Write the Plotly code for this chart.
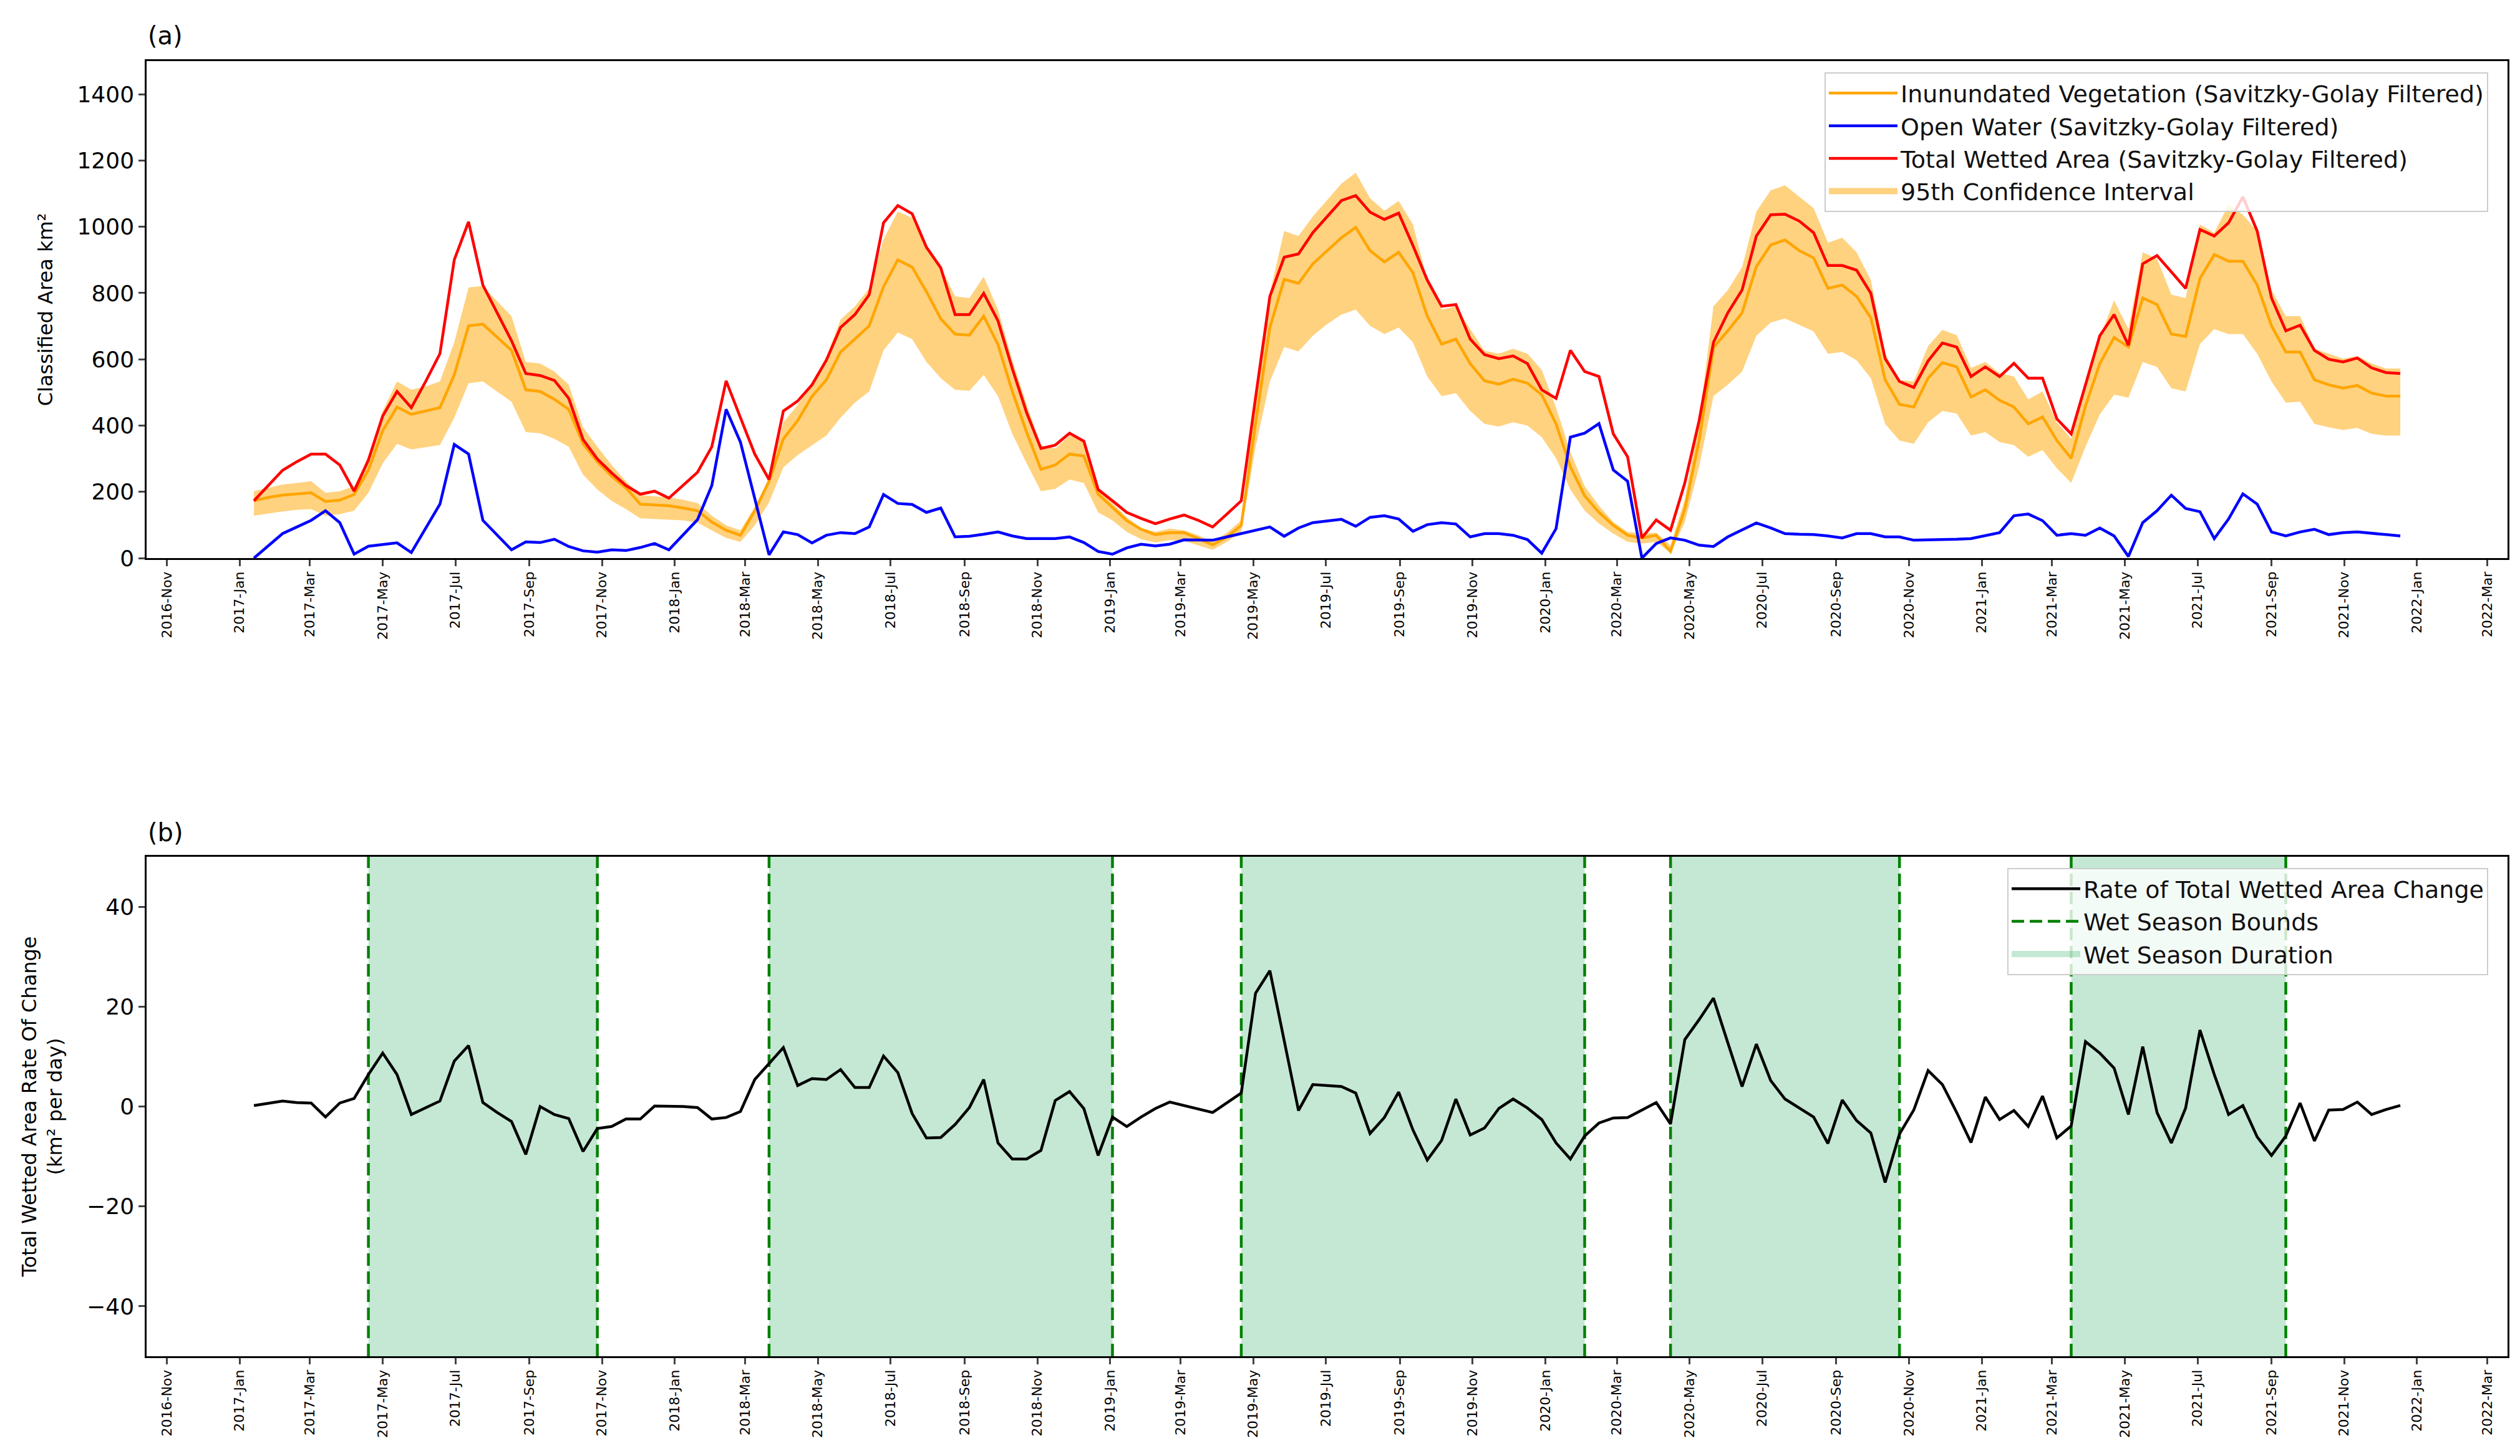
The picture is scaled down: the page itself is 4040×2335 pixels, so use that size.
import pandas as pd
import plotly.graph_objects as go

# Sentinel-1 12-day acquisition grid (first image 2017-01-13, 151 scenes)
dates = pd.date_range("2017-01-13", periods=151, freq="12D")

# Classified areas in km2 (Savitzky-Golay filtered)
veg = [173, 183, 190, 194, 197, 171, 175, 192, 266, 385, 456, 434, 444, 454, 553, 701, 706, 666, 627, 508,
       503, 479, 449, 345, 291, 247, 212, 163, 160, 158, 151, 143, 109, 84, 69, 143, 232, 360, 415, 488,
       538, 622, 661, 701, 819, 900, 878, 804, 722, 676, 673, 730, 644, 503, 380, 268, 281, 314, 308, 193,
       153, 113, 87, 71, 77, 77, 59, 40, 64, 99, 407, 696, 841, 829, 888, 928, 967, 998, 928,
       894, 923, 861, 730, 646, 661, 587, 535, 525, 540, 528, 493, 405, 276, 188, 138, 99, 69, 61, 69,
       20, 148, 355, 636, 686, 740, 880, 945, 960, 928, 906, 814, 824, 790, 725, 538, 464, 456, 543,
       590, 577, 486, 508, 476, 456, 405, 426, 355, 301, 459, 587, 666, 637, 785, 765, 676, 669, 844, 916,
       896, 896, 824, 701, 622, 622, 538, 523, 513, 521, 498, 489, 489]

water = [0, 38, 74, 94, 114, 143, 107, 12, 36, 41, 46, 17, 92, 163, 343, 314, 114, 69, 25, 49,
         47, 57, 35, 22, 18, 25, 23, 32, 44, 25, 72, 116, 219, 449, 350, 182, 10, 79, 71, 46,
         69, 77, 74, 94, 192, 165, 162, 138, 151, 64, 66, 72, 79, 67, 59, 59, 59, 64, 47, 20,
         12, 31, 42, 37, 42, 55, 55, 54, 64, 74, 84, 94, 66, 91, 107, 112, 117, 96, 123,
         128, 118, 81, 101, 107, 103, 64, 74, 74, 69, 56, 15, 89, 365, 377, 406, 266, 232, 0, 44,
         61, 54, 39, 35, 64, 84, 106, 91, 74, 72, 71, 67, 61, 74, 74, 64, 64, 54, 55,
         54, 57, 59, 69, 77, 128, 133, 113, 69, 74, 69, 91, 67, 5, 107, 143, 190, 150, 140, 59,
         118, 194, 163, 79, 67, 79, 87, 71, 77, 79, 74, 71, 67]

total = [173, 219, 265, 291, 314, 314, 281, 202, 296, 429, 503, 454, 533, 617, 900, 1015, 824, 740, 656, 557,
         551, 536, 482, 358, 299, 257, 219, 193, 202, 181, 219, 259, 336, 535, 424, 314, 237, 444, 474, 523,
         597, 696, 735, 795, 1012, 1064, 1039, 938, 876, 735, 735, 799, 716, 572, 439, 331, 341, 377, 353, 207,
         173, 138, 120, 104, 118, 130, 114, 94, 133, 173, 484, 790, 908, 918, 982, 1031, 1079, 1094, 1044,
         1022, 1041, 943, 839, 760, 765, 661, 614, 602, 610, 587, 508, 482, 627, 563, 548, 375, 306, 61, 115,
         84, 227, 415, 651, 740, 809, 972, 1036, 1038, 1017, 982, 883, 883, 869, 799, 602, 533, 515, 595,
         649, 637, 548, 577, 548, 588, 543, 543, 420, 375, 523, 671, 735, 642, 888, 913, 864, 814, 992, 972,
         1012, 1090, 987, 785, 686, 703, 627, 600, 592, 604, 574, 560, 557]

# 95% confidence interval of the inundated vegetation estimate
ci_upper = [202, 212, 222, 227, 232, 197, 202, 217, 301, 444, 533, 508, 518, 533, 651, 817, 821, 775, 730, 592,
            587, 563, 523, 395, 336, 281, 232, 190, 186, 183, 176, 166, 128, 99, 84, 153, 242, 410, 462, 530,
            607, 720, 760, 814, 962, 1046, 1027, 933, 878, 790, 785, 849, 750, 597, 464, 340, 331, 370, 357, 207,
            166, 123, 91, 79, 89, 84, 69, 49, 77, 114, 474, 800, 987, 972, 1031, 1081, 1130, 1163, 1086,
            1048, 1078, 1007, 839, 750, 760, 691, 626, 617, 632, 617, 568, 454, 321, 217, 158, 109, 79, 74, 77,
            39, 178, 415, 760, 809, 878, 1046, 1110, 1125, 1091, 1056, 952, 967, 923, 839, 617, 538, 533, 640,
            689, 673, 574, 592, 558, 548, 479, 503, 410, 360, 523, 666, 778, 691, 923, 903, 795, 785, 1007, 982,
            1066, 1036, 987, 809, 730, 730, 632, 617, 602, 610, 587, 572, 572]

ci_lower = [128, 135, 141, 146, 148, 128, 133, 143, 197, 286, 345, 328, 334, 341, 424, 528, 533, 503, 472, 380,
            377, 360, 336, 252, 207, 173, 148, 120, 118, 116, 114, 107, 84, 61, 49, 99, 168, 274, 311, 340,
            370, 424, 469, 503, 627, 681, 661, 592, 543, 508, 505, 553, 489, 375, 286, 202, 209, 237, 227, 138,
            114, 79, 57, 47, 54, 52, 38, 25, 49, 79, 336, 533, 637, 624, 671, 706, 735, 750, 701,
            676, 696, 651, 548, 489, 498, 444, 405, 397, 410, 400, 365, 301, 207, 143, 104, 74, 49, 44, 49,
            15, 109, 276, 489, 523, 563, 671, 711, 723, 704, 684, 617, 622, 597, 543, 405, 355, 345, 410,
            444, 436, 370, 380, 350, 341, 306, 326, 271, 227, 336, 434, 493, 484, 592, 577, 513, 503, 646, 691,
            676, 676, 617, 533, 469, 472, 405, 395, 387, 393, 375, 370, 370]

# rate of total wetted area change, km2 per day (None = no acquisition)
rate = [0.2, 0.7, 1.1, 0.8, 0.7, -2.1, 0.7, 1.6, 6.4, 10.7, 6.4, -1.6, -0.3, 1.1, 9.1, 12.2, 0.8, -1.2, -3.0, -9.6,
        0.0, -1.6, -2.4, -9.0, -4.4, -4.0, -2.5, -2.5, 0.1, 0.1, 0.0, -0.2, -2.5, -2.2, -1.0, 5.4, 8.5, 11.8, 4.2, 5.6,
        5.4, 7.4, 3.8, 3.8, 10.1, 6.8, -1.4, -6.3, -6.2, -3.6, -0.2, 5.4, -7.3, -10.5, -10.5, -8.8, 1.2, 3.0, -0.4, -9.8,
        -2.1, -4.0, -2.1, -0.4, 0.9, None, None, -1.2, None, 2.7, 22.7, 27.2, None, -0.8, 4.4, None, 4.0, 2.7, -5.4,
        -2.2, 2.9, -4.7, -10.7, -6.8, 1.5, -5.7, -4.3, -0.4, 1.5, -0.3, -2.6, -7.3, -10.5, -5.9, -3.3, -2.3, -2.2, -0.7, 0.8,
        -3.5, 13.4, 17.4, 21.7, 12.8, 4.0, 12.5, 5.2, 1.5, -0.3, -2.1, -7.4, 1.3, -2.8, -5.3, -15.2, -5.5, -0.7, 7.2,
        4.4, -1.2, -7.2, 1.9, -2.6, -0.8, -4.0, 2.1, -6.3, -3.9, 13.0, 10.7, 7.7, -1.6, 12.0, -1.2, -7.3, -0.3, 15.3, 6.4,
        -1.6, 0.2, -6.1, -9.8, -5.9, 0.7, -6.9, -0.7, -0.6, 0.9, -1.6, -0.6, 0.2]

season_starts = ["2017-04-19", "2018-03-21", "2019-04-21", "2020-04-15", "2021-03-17"]
season_ends = ["2017-10-28", "2019-01-03", "2020-02-03", "2020-10-24", "2021-09-13"]

x_range = ["2016-10-15", "2022-03-18"]
area_range = [0, 1500]
area_ticks = [0, 200, 400, 600, 800, 1000, 1200, 1400]
rate_range = [-50, 50]
rate_ticks = [-40, -20, 0, 20, 40]

FONT = "DejaVu Sans"
LW = 4.5
BAND = "rgba(255,165,0,0.5)"
WET = "rgba(60,179,113,0.3)"

fig = go.Figure()

# (a) confidence band first so the lines sit on top of it
fig.add_trace(go.Scatter(x=dates, y=ci_lower, mode="lines", line=dict(width=0, color=BAND),
                         showlegend=False, hoverinfo="skip", xaxis="x", yaxis="y"))
fig.add_trace(go.Scatter(x=dates, y=ci_upper, mode="lines", fill="tonexty", fillcolor=BAND,
                         line=dict(width=0, color=BAND), showlegend=False, xaxis="x", yaxis="y"))
fig.add_trace(go.Scatter(x=dates, y=veg, mode="lines", line=dict(color="#FFA500", width=LW),
                         name="Inunundated Vegetation (Savitzky-Golay Filtered)", legendrank=1, legendgroup="veg",
                         xaxis="x", yaxis="y"))
fig.add_trace(go.Scatter(x=dates, y=water, mode="lines", line=dict(color="#0000FF", width=LW),
                         name="Open Water (Savitzky-Golay Filtered)", legendrank=2, legendgroup="ow",
                         xaxis="x", yaxis="y"))
fig.add_trace(go.Scatter(x=dates, y=total, mode="lines", line=dict(color="#FF0000", width=LW),
                         name="Total Wetted Area (Savitzky-Golay Filtered)", legendrank=3, legendgroup="tot",
                         xaxis="x", yaxis="y"))
# legend patch for the band
fig.add_trace(go.Scatter(x=[None], y=[None], mode="lines", line=dict(width=10, color=BAND),
                         name="95th Confidence Interval", legendrank=4, legendgroup="ci", xaxis="x", yaxis="y"))

# (b) wet season spans and bounds
span_x, span_y, bound_x, bound_y = [], [], [], []
for s, e in zip(season_starts, season_ends):
    span_x += [s, s, e, e, s, None]
    span_y += [rate_range[0], rate_range[1], rate_range[1], rate_range[0], rate_range[0], None]
    bound_x += [s, s, None, e, e, None]
    bound_y += [rate_range[0], rate_range[1], None, rate_range[0], rate_range[1], None]

fig.add_trace(go.Scatter(x=span_x, y=span_y, mode="lines", fill="toself", fillcolor=WET,
                         line=dict(width=0), showlegend=False, hoverinfo="skip", xaxis="x2", yaxis="y2"))
fig.add_trace(go.Scatter(x=bound_x, y=bound_y, mode="lines", line=dict(color="green", width=LW, dash="20px,9px"),
                         name="Wet Season Bounds", legend="legend2", legendrank=2, legendgroup="bnd",
                         xaxis="x2", yaxis="y2"))
fig.add_trace(go.Scatter(x=dates, y=rate, mode="lines", connectgaps=True, line=dict(color="black", width=LW),
                         name="Rate of Total Wetted Area Change", legend="legend2", legendrank=1, legendgroup="rate",
                         xaxis="x2", yaxis="y2"))
fig.add_trace(go.Scatter(x=[None], y=[None], mode="lines", line=dict(width=10, color=WET),
                         name="Wet Season Duration", legend="legend2", legendrank=3, legendgroup="dur",
                         xaxis="x2", yaxis="y2"))

xcommon = dict(range=x_range, type="date", tick0="2016-11-01", dtick="M2", tickformat="%Y-%b",
               tickangle=-90, tickfont=dict(family=FONT, size=22), ticks="outside", ticklen=10, tickwidth=2.5,
               showline=True, mirror=True, linecolor="black", linewidth=2.5, showgrid=False, zeroline=False,
               automargin=False)
ycommon = dict(tickfont=dict(family=FONT, size=36), ticks="outside", ticklen=10, tickwidth=2.5,
               showline=True, mirror=True, linecolor="black", linewidth=2.5, showgrid=False, zeroline=False,
               automargin=False)

legend_style = dict(xanchor="right", x=0.9854, yanchor="top", bgcolor="rgba(255,255,255,0.8)",
                    bordercolor="#cccccc", borderwidth=2, font=dict(family=FONT, size=38, color="#111111"),
                    tracegroupgap=21, traceorder="normal", itemwidth=110)

fig.update_layout(
    width=4040, height=2335,
    margin=dict(l=0, r=0, t=0, b=0),
    paper_bgcolor="white", plot_bgcolor="white",
    font=dict(family=FONT, size=32, color="black"),
    xaxis=dict(domain=[0.0562, 0.9931], anchor="y", **xcommon),
    yaxis=dict(domain=[0.6201, 0.9615], anchor="x", range=area_range, tickvals=area_ticks,
               title=dict(text="Classified Area km²", font=dict(family=FONT, size=32), standoff=30), **ycommon),
    xaxis2=dict(domain=[0.0562, 0.9931], anchor="y2", **xcommon),
    yaxis2=dict(domain=[0.0719, 0.415], anchor="x2", range=rate_range, tickvals=rate_ticks,
                title=dict(text="Total Wetted Area Rate Of Change<br>(km² per day)",
                           font=dict(family=FONT, size=32), standoff=30), **ycommon),
    legend=dict(y=0.9537, **legend_style),
    legend2=dict(y=0.4073, **legend_style),
    annotations=[
        dict(text="(a)", xref="paper", yref="paper", x=0.0562, y=0.979, xanchor="left", yanchor="middle",
             showarrow=False, font=dict(family=FONT, size=40)),
        dict(text="(b)", xref="paper", yref="paper", x=0.0562, y=0.4317, xanchor="left", yanchor="middle",
             showarrow=False, font=dict(family=FONT, size=40)),
    ],
)

fig.write_html("out.html")
